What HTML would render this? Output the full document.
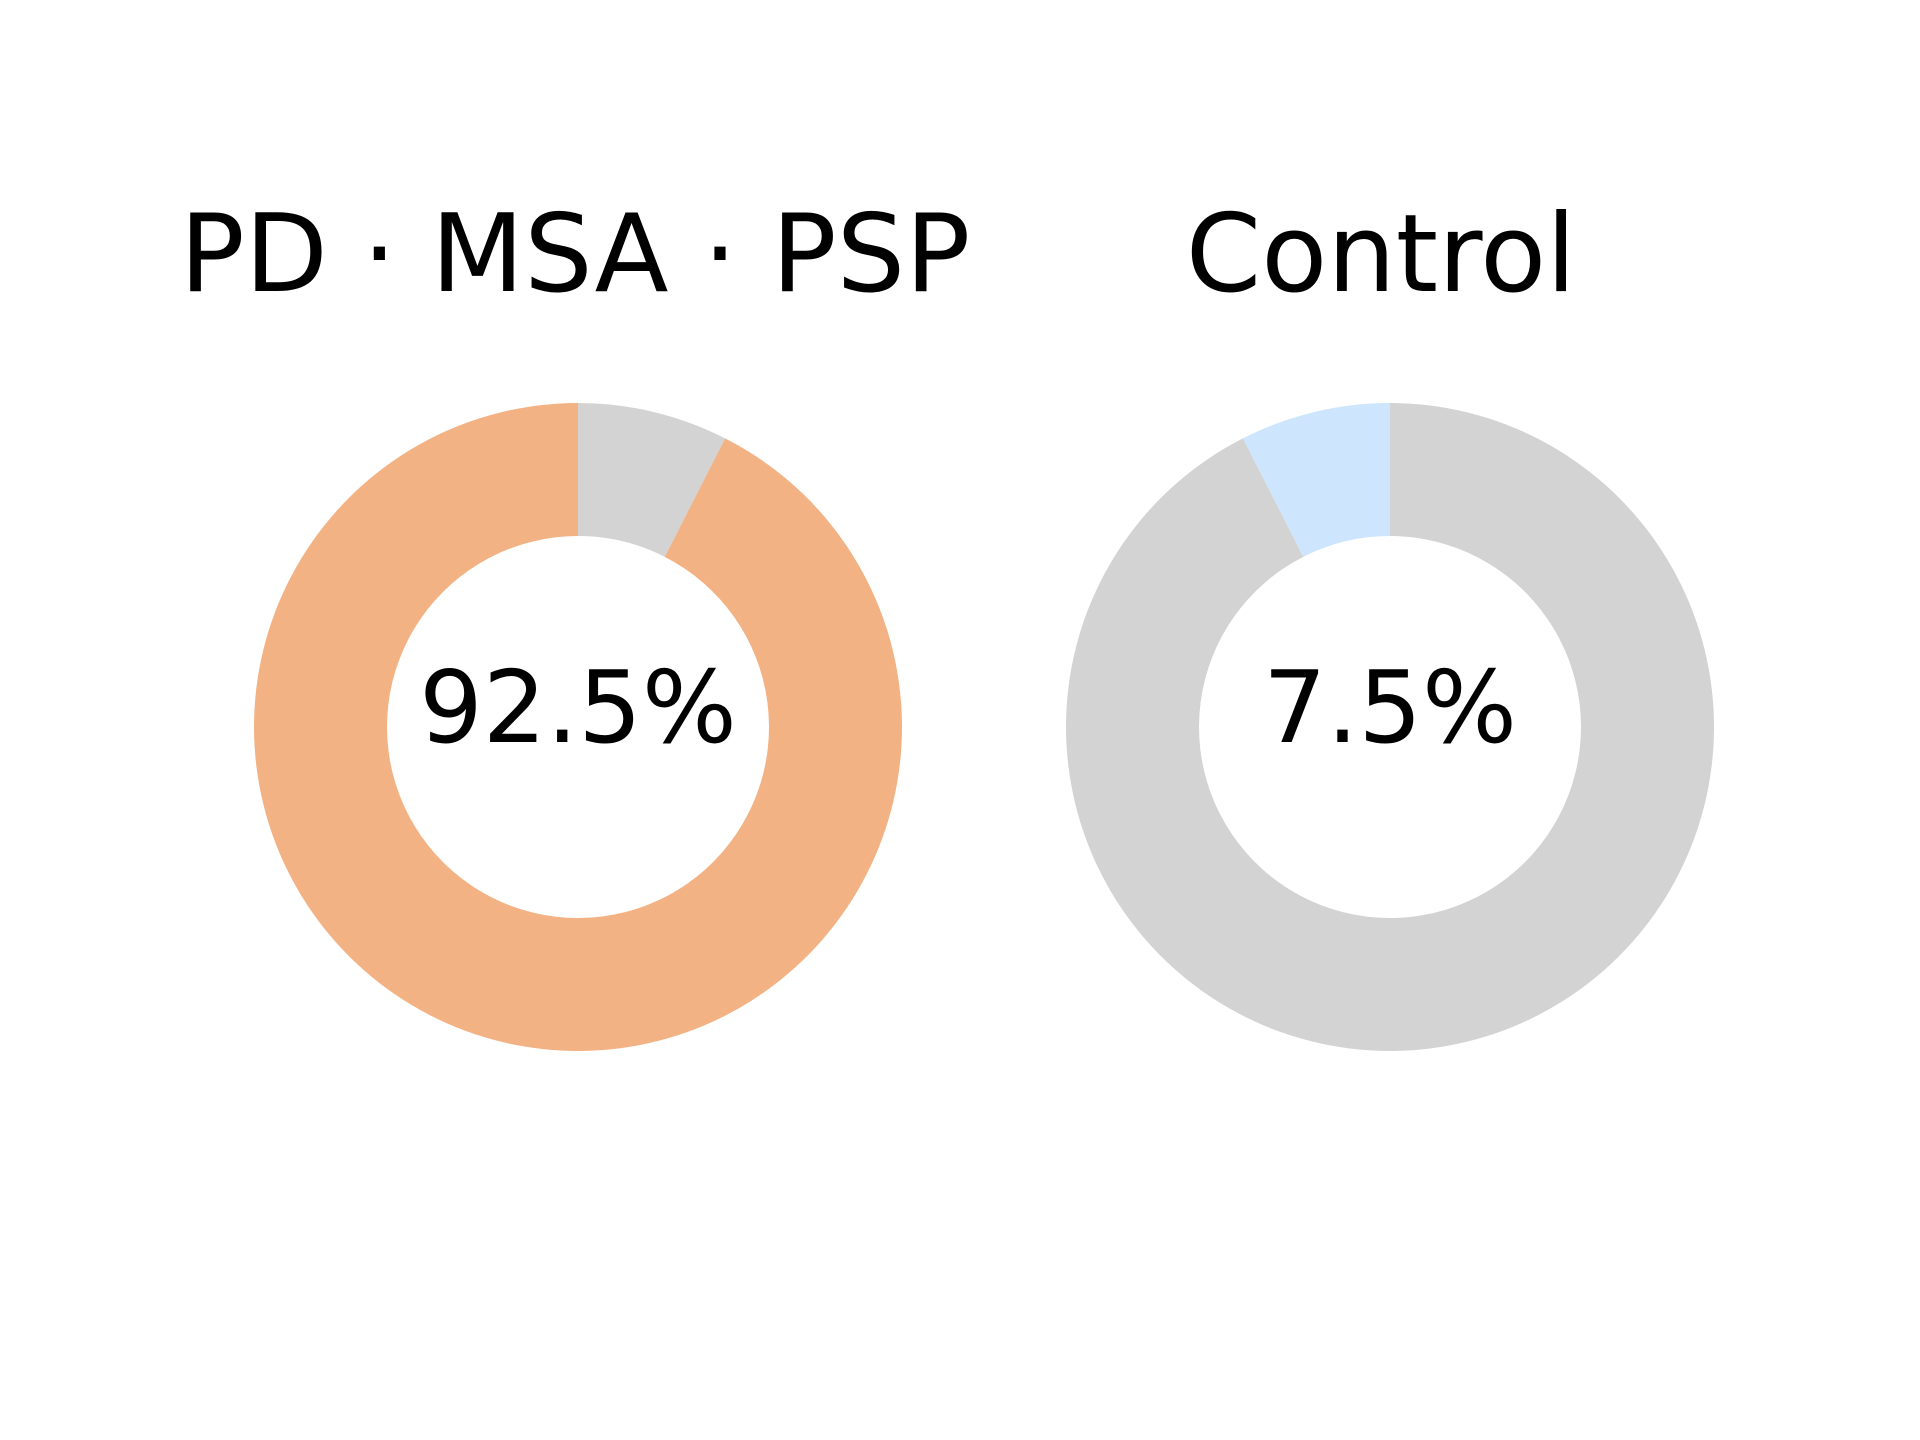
<!DOCTYPE html>
<html>
<head>
<meta charset="utf-8">
<style>
html,body{margin:0;padding:0;background:#fff;}
svg{display:block;}
text{font-family:"DejaVu Sans","Liberation Sans",sans-serif;fill:#000;}
</style>
</head>
<body>
<svg id="chart" width="1920" height="1440" viewBox="0 0 1920 1440">
<rect width="1920" height="1440" fill="#fff"/>
</svg>
<script>
const panelTitles = ["PD \u00b7 MSA \u00b7 PSP", "Control"];
const panelValues = [[92.5, 7.5], [7.5, 92.5]];
const panelColors = [["#f3b283", "#d3d3d3"], ["#cde6fd", "#d3d3d3"]];
const centerLabels = ["92.5%", "7.5%"];

const svg = document.getElementById('chart');
const NS = 'http://www.w3.org/2000/svg';
const centersX = [578, 1390];
const titleX = [575, 1381];
const titleSize = [108, 108];
const cy = 727, R = 324, r = 191;

function pt(rad, deg, cx) {
  const a = deg * Math.PI / 180;
  return [cx + rad * Math.cos(a), cy - rad * Math.sin(a)];
}
function wedge(cx, a0, a1) {
  const large = (a1 - a0) > 180 ? 1 : 0;
  const p0 = pt(R, a0, cx), p1 = pt(R, a1, cx), q1 = pt(r, a1, cx), q0 = pt(r, a0, cx);
  return `M${p0[0]},${p0[1]} A${R},${R} 0 ${large} 0 ${p1[0]},${p1[1]} L${q1[0]},${q1[1]} A${r},${r} 0 ${large} 1 ${q0[0]},${q0[1]} Z`;
}

panelTitles.forEach((title, i) => {
  const cx = centersX[i];
  const g = document.createElementNS(NS, 'g');
  
  
  svg.appendChild(g);

  const t = document.createElementNS(NS, 'text');
  
  
  t.setAttribute('x', titleX[i]);
  t.setAttribute('y', 291);
  t.setAttribute('text-anchor', 'middle');
  t.setAttribute('font-size', titleSize[i]);
  t.textContent = title;
  g.appendChild(t);

  const vals = panelValues[i];
  const total = vals.reduce((a, b) => a + b, 0);
  let ang = 90;
  vals.forEach((v, j) => {
    const sweep = v / total * 360;
    const p = document.createElementNS(NS, 'path');
    
    
    p.setAttribute('d', wedge(cx, ang, ang + sweep));
    p.setAttribute('fill', panelColors[i][j]);
    g.appendChild(p);
    ang += sweep;
  });

  const c = document.createElementNS(NS, 'text');
  
  
  c.setAttribute('x', cx);
  c.setAttribute('y', 742);
  c.setAttribute('text-anchor', 'middle');
  c.setAttribute('font-size', '100');
  c.textContent = centerLabels[i];
  g.appendChild(c);
});
</script>
</body>
</html>
